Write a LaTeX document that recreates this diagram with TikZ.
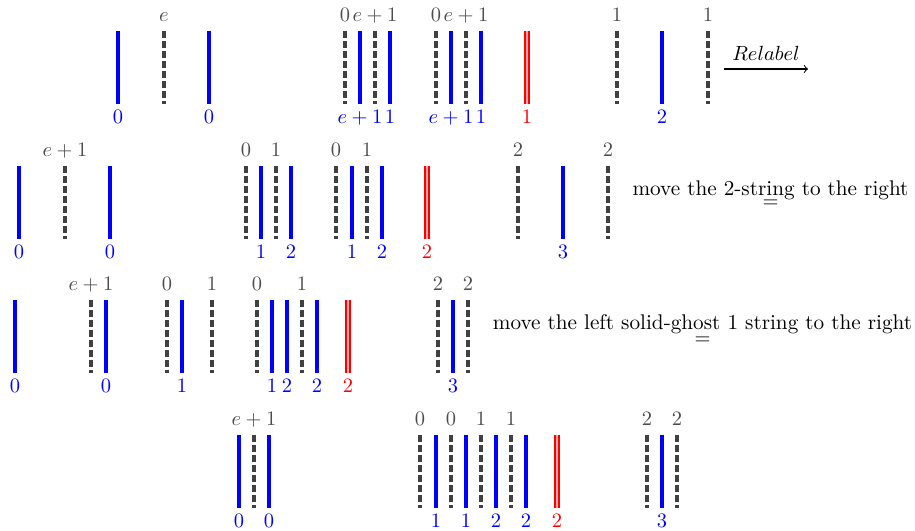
\documentclass[tikz,border=0pt]{standalone}
\newcommand\ghostS[3]{\draw[ghost] (#1,#2) -- (#1,#2+73); \node[glab] (g#1x#2) at (#1,#2-9) {$#3$};}
\newcommand\solidS[3]{\draw[solidstr] (#1,#2) -- (#1,#2+73); \node[blab] (s#1x#2) at (#1,#2+93) {$#3$};}
\newcommand\redS[3]{\draw[redstr] (#1,#2) -- (#1,#2+73); \node[rlab] (r#1x#2) at (#1,#2+93) {$#3$};}
\begin{document}
\begin{tikzpicture}[x=0.488pt,y=-0.488pt,
  solidstr/.style={blue, line width=1.5pt},
  ghost/.style={black!75, line width=1.5pt, dash pattern=on 3.3pt off 1.6pt},
  redstr/.style={red, line width=1.1pt, double=red!35, double distance=1pt},
  glab/.style={text=black!70, anchor=base, inner sep=0pt},
  blab/.style={text=blue, anchor=base, inner sep=0pt},
  rlab/.style={text=red, anchor=base, inner sep=0pt},
  note/.style={anchor=base, inner sep=0pt, font=\fontsize{10.35pt}{12pt}\selectfont}]
\useasboundingbox (0,0) rectangle (915,531);
% Row 1
\solidS{118}{31}{0} \ghostS{164}{31}{e} \solidS{209}{31}{0}
\ghostS{345}{31}{0} \solidS{360}{31}{e+1} \ghostS{375}{31}{e+1} \solidS{390}{31}{1}
\ghostS{436}{31}{0} \solidS{451}{31}{e+1} \ghostS{466}{31}{e+1} \solidS{481}{31}{1}
\redS{527}{31}{1}
\ghostS{617}{31}{1} \solidS{662}{31}{2} \ghostS{708}{31}{1}
\node[anchor=base] (rl) at (766,61) {$Relabel$};
\coordinate (a1) at (724,69);
\coordinate (a2) at (808,69);
\draw[->, line width=0.5pt] (a1) -- (a2);
% Row 2
\solidS{19}{166}{0} \ghostS{65}{166}{e+1} \solidS{110}{166}{0}
\ghostS{246}{166}{0} \solidS{261}{166}{1} \ghostS{276}{166}{1} \solidS{291}{166}{2}
\ghostS{336}{166}{0} \solidS{352}{166}{1} \ghostS{367}{166}{1} \solidS{382}{166}{2}
\redS{427}{166}{2}
\ghostS{518}{166}{2} \solidS{563}{166}{3} \ghostS{608}{166}{2}
\node[note] (mv1) at (770.5,196) {move the 2-string to the right};
\node[note] (eq1) at (770.5,208) {$=$};
% Row 3
\solidS{15}{300}{0} \ghostS{91}{300}{e+1} \solidS{106}{300}{0}
\ghostS{167}{300}{0} \solidS{182}{300}{1} \ghostS{212}{300}{1}
\ghostS{257}{300}{0} \solidS{272}{300}{1} \solidS{287}{300}{2} \ghostS{302}{300}{1} \solidS{317}{300}{2}
\redS{348}{300}{2}
\ghostS{438}{300}{2} \solidS{453}{300}{3} \ghostS{468}{300}{2}
\node[note] (mv2) at (702.5,330) {move the left solid-ghost 1 string to the right};
\node[note] (eq2) at (702.5,344.5) {$=$};
% Row 4
\solidS{239}{435}{0} \ghostS{254}{435}{e+1} \solidS{269}{435}{0}
\ghostS{420}{435}{0} \solidS{436}{435}{1} \ghostS{451}{435}{0} \solidS{466}{435}{1}
\ghostS{481}{435}{1} \solidS{496}{435}{2} \ghostS{511}{435}{1} \solidS{526}{435}{2}
\redS{557}{435}{2}
\ghostS{647}{435}{2} \solidS{662}{435}{3} \ghostS{677}{435}{2}
\end{tikzpicture}
\end{document}
